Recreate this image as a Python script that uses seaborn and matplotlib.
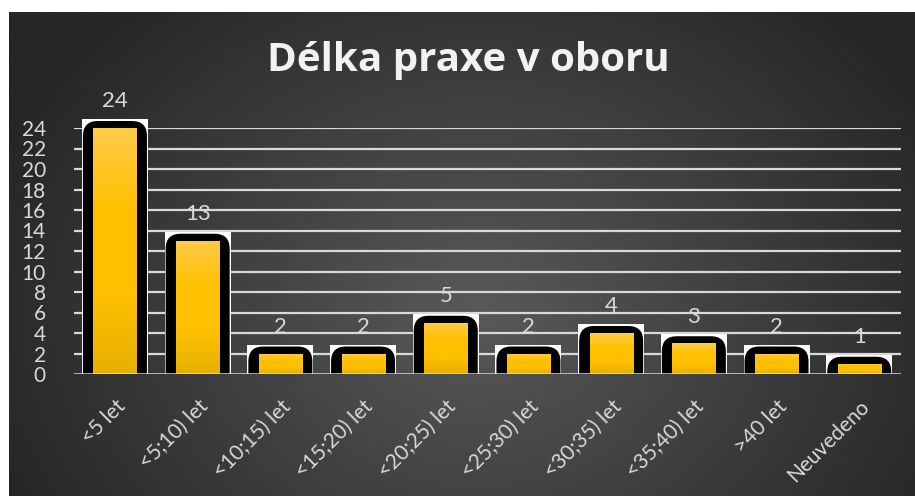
import numpy as np
import matplotlib
matplotlib.use("Agg")
import matplotlib.pyplot as plt
from matplotlib.path import Path
from matplotlib.patches import PathPatch, Rectangle
from matplotlib.colors import LinearSegmentedColormap
import seaborn as sns
import pandas as pd

# Data
categories = ["<5 let", "<5;10) let", "<10;15) let", "<15;20) let", "<20;25) let",
              "<25;30) let", "<30;35) let", "<35;40) let", ">40 let", "Neuvedeno"]
counts = [24, 13, 2, 2, 5, 2, 4, 3, 2, 1]
y_ticks = list(range(0, 25, 2))
title = "Délka praxe v oboru"

W, H = 915, 496
fig = plt.figure(figsize=(W / 100, H / 100), dpi=100, facecolor="white")

# Dark radial background panel
bg = fig.add_axes([9 / W, 0, 1 - 9 / W, (H - 12) / H], zorder=-10)
gx, gy = np.meshgrid(np.linspace(0, W - 9, 400), np.linspace(0, H - 12, 220))
cx, cy = 470, 300
r = np.sqrt(((gx - cx) / 520) ** 2 + ((gy - cy) / 420) ** 2)
r = np.clip(r, 0, 1)
bg_cmap = LinearSegmentedColormap.from_list("bg", ["#595959", "#262626"])
bg.imshow(r, cmap=bg_cmap, vmin=0, vmax=1, aspect="auto", origin="upper",
          extent=[0, 1, 0, 1], interpolation="bilinear")
bg.set_axis_off()

# Main plot area
ax_l, ax_r, ax_b, ax_t = 73.6, 900.6, 374, 128
ax = fig.add_axes([ax_l / W, (H - ax_b) / H, (ax_r - ax_l) / W, (ax_b - ax_t) / H])
ax.patch.set_alpha(0)

df = pd.DataFrame({"kategorie": categories, "pocet": counts})
sns.barplot(data=df, x="kategorie", y="pocet", color="#FFC000", width=0.52,
            ax=ax, zorder=3, saturation=1)

ax.set_xlim(-0.5, len(categories) - 0.5)
ax.set_ylim(0, 24)
ax.set_yticks(y_ticks)
for yv in y_ticks[1:]:
    ax.axhline(yv, color="#D9D9D9", lw=1.6, zorder=0)
ax.axhline(0, color="#D9D9D9", lw=1.8, zorder=6)

for s in ax.spines.values():
    s.set_visible(False)
ax.set_xlabel("")
ax.set_ylabel("")
ax.tick_params(axis="both", length=0, colors="#D9D9D9")
ax.tick_params(axis="y", pad=20, labelsize=15)
for lab in ax.get_yticklabels():
    lab.set_fontfamily("Lato")
ax.set_xticks(range(len(categories)))
ax.set_xticklabels(categories, rotation=45, ha="right", rotation_mode="anchor",
                   fontsize=15, family="Lato", color="#D9D9D9")
ax.tick_params(axis="x", pad=16)

# Pixel-to-data scale factors
px_x = (len(categories)) / (ax_r - ax_l)
px_y = 24 / (ax_b - ax_t)

gold = LinearSegmentedColormap.from_list("gold", ["#E6B000", "#FFC000", "#FFC000", "#FFCB4A"])
grad = np.linspace(0, 1, 256).reshape(-1, 1)

def rounded_top(x0, x1, top, rx, ry):
    ry = min(ry, top)
    verts = [(x0, 0), (x0, top - ry), (x0, top), (x0 + rx, top),
             (x1 - rx, top), (x1, top), (x1, top - ry), (x1, 0), (x0, 0)]
    codes = [Path.MOVETO, Path.LINETO, Path.CURVE3, Path.CURVE3,
             Path.LINETO, Path.CURVE3, Path.CURVE3, Path.LINETO, Path.CLOSEPOLY]
    return Path(verts, codes)

for bar, val in zip(ax.patches, counts):
    cxb = bar.get_x() + bar.get_width() / 2
    # white frame behind
    ww = 66 * px_x
    ax.add_patch(Rectangle((cxb - ww / 2, 0), ww, val + 9 * px_y, facecolor="white",
                           edgecolor="none", zorder=1, clip_on=False))
    # thick black rounded outline
    bw = 64 * px_x
    ax.add_patch(PathPatch(rounded_top(cxb - bw / 2, cxb + bw / 2, val + 7 * px_y,
                                       15 * px_x, 15 * px_y),
                           facecolor="black", edgecolor="none", zorder=2, clip_on=False))
    # gold gradient fill
    bar.set_clip_on(False)
    im = ax.imshow(grad, cmap=gold, aspect="auto", origin="lower",
                   extent=[bar.get_x(), bar.get_x() + bar.get_width(), 0, val],
                   zorder=4, interpolation="bilinear")
    im.set_clip_path(bar)
    ax.annotate(str(val), (cxb, val), xytext=(0, 12), textcoords="offset points",
                ha="center", va="bottom", fontsize=16, family="Lato",
                color="#D9D9D9", annotation_clip=False)

ax.set_xlim(-0.5, len(categories) - 0.5)
ax.set_ylim(0, 24)

fig.text(468 / W, 1 - 60 / H, title, ha="center", va="center", fontsize=29,
         fontweight="bold", family="Open Sans", color="#F2F2F2")

fig.savefig("out.png", dpi=100, facecolor=fig.get_facecolor())
